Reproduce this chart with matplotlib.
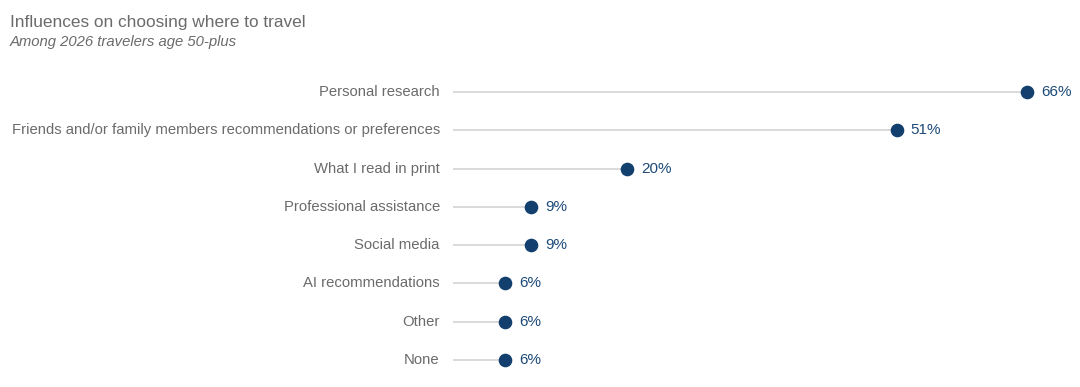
import matplotlib
matplotlib.use("Agg")
import matplotlib.pyplot as plt

categories = [
    "Personal research",
    "Friends and/or family members recommendations or preferences",
    "What I read in print",
    "Professional assistance",
    "Social media",
    "AI recommendations",
    "Other",
    "None",
]
values = [66, 51, 20, 9, 9, 6, 6, 6]
value_labels = ["66%", "51%", "20%", "9%", "9%", "6%", "6%", "6%"]

title = "Influences on choosing where to travel"
subtitle = "Among 2026 travelers age 50-plus"

plt.rcParams['font.family'] = ['Liberation Sans', 'DejaVu Sans']

W, H = 1080, 387
fig = plt.figure(figsize=(W / 100, H / 100), dpi=100)
fig.patch.set_facecolor("white")

x0 = 453
ppu = 8.7
top_px = 92 - 19.14
bot_px = 360 + 19.14
ax = fig.add_axes([x0 / W, 1 - bot_px / H, (W - x0) / W, (bot_px - top_px) / H])
ax.set_xlim(0, (W - x0) / ppu)
ax.set_ylim(len(categories) - 0.5, -0.5)
ax.axis("off")

dot_color = "#123f6d"
ys = list(range(len(categories)))
ax.hlines(ys, 0, values, color="#cfcfcf", linewidth=1.1, zorder=1)
ax.plot(values, ys, "o", color=dot_color, markersize=8.8, zorder=3)
for y, v, lab, cat in zip(ys, values, value_labels, categories):
    ax.annotate(lab, (v, y), xytext=(10, 0), textcoords="offset points",
                va="center", ha="left", fontsize=11, color="#1d4a78")
    ax.annotate(cat, (0, y), xytext=(-9.5, 0), textcoords="offset points",
                va="center", ha="right", fontsize=10.75, color="#6b6b6b")

fig.text(10 / W, 1 - 22 / H, title, fontsize=12.4, color="#6b6b6b", va="center", ha="left")
fig.text(10 / W, 1 - 42 / H, subtitle, fontsize=10.7, color="#6b6b6b", style="italic",
         va="center", ha="left")

fig.savefig("out.png", dpi=100, facecolor="white")
